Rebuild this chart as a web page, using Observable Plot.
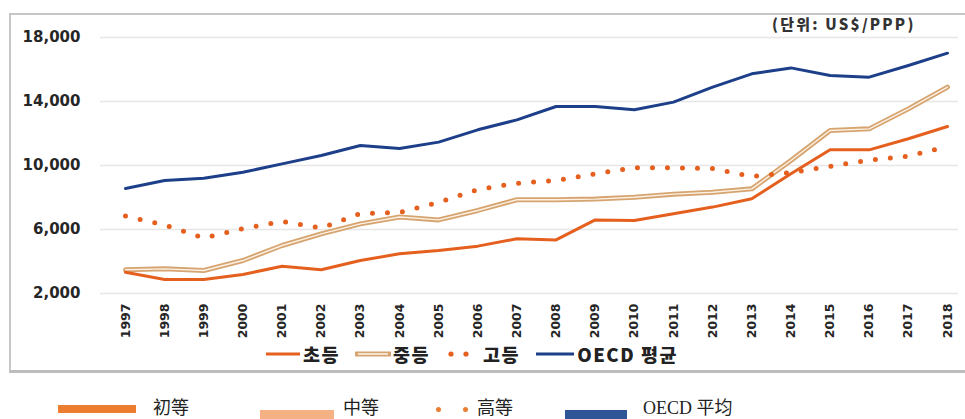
<!DOCTYPE html>
<html>
<head>
<meta charset="utf-8">
<script src="https://cdn.jsdelivr.net/npm/d3@7"></script>
<script src="https://cdn.jsdelivr.net/npm/@observablehq/plot@0.6"></script>
<style>
  html, body { margin: 0; padding: 0; background: #fff; }
  body { width: 965px; height: 419px; overflow: hidden; position: relative; }
  #frame { position: absolute; left: 9px; top: 13px; width: 975px; height: 355px;
           border: 2px solid #c6c6c6; border-right: none; border-bottom: 3px solid #bdbdbd; }
  #chart { position: absolute; left: 0; top: 0; }
  #unit { position: absolute; left: 772px; top: 13px; font-family: "Noto Sans CJK KR", sans-serif;
          font-weight: 900; font-size: 15px; letter-spacing: 2.2px; color: #333; }
  .leg { position: absolute; display: flex; align-items: center; white-space: nowrap; }
  #leg1 { left: 265px; top: 341px; font-family: "Noto Sans CJK KR", sans-serif; font-weight: 900;
          font-size: 18.5px; letter-spacing: 1.5px; color: #222; }
  #leg1 .item { display: flex; align-items: center; margin-right: 15px; }
  #leg1 svg { display: block; }
  .sw { position: absolute; }
  .lt { position: absolute; top: 399px; font-family: "Liberation Serif", "Noto Sans CJK SC", serif; font-size: 18px; line-height: 19px; color: #222; }
</style>
</head>
<body>
<div id="frame"></div>
<div id="chart"></div>
<div id="unit">(단위: US$/PPP)</div>
<div id="leg1" class="leg"></div>
<script>
// ---- data ----
const years = [1997, 1998, 1999, 2000, 2001, 2002, 2003, 2004, 2005, 2006, 2007,
               2008, 2009, 2010, 2011, 2012, 2013, 2014, 2015, 2016, 2017, 2018];
const primary   = [3330, 2880, 2870, 3190, 3700, 3480, 4060, 4480, 4690, 4960, 5420,
                   5350, 6600, 6560, 6980, 7400, 7920, 9480, 10980, 10980, 11670, 12440];
const secondary = [3480, 3540, 3440, 4060, 5000, 5730, 6350, 6780, 6600, 7190, 7860,
                   7860, 7900, 8020, 8210, 8330, 8540, 10310, 12190, 12290, 13540, 14900];
const tertiary  = [6840, 6280, 5470, 6060, 6500, 6090, 7000, 7060, 7690, 8500, 8890,
                   9060, 9480, 9860, 9860, 9820, 9310, 9560, 9950, 10340, 10590, 11190];
const oecd      = [8560, 9060, 9200, 9580, 10100, 10625, 11250, 11060, 11460, 12230, 12850,
                   13690, 13690, 13480, 13960, 14900, 15730, 16100, 15630, 15520, 16250, 17020];
const yTicks = [2000, 6000, 10000, 14000, 18000];
const seriesKo = ["초등", "중등", "고등", "OECD 평균"];
const seriesZh = ["初等", "中等", "高等", "OECD 平均"];

const C_PRI = "#e5601e", C_SEC = "#d6a46f", C_SEC_IN = "#fdf1e6", C_TER = "#e5601e", C_OECD = "#1d3f8a";

const toRows = (vals) => years.map((y, i) => ({year: y, value: vals[i]}));
const rPri = toRows(primary), rSec = toRows(secondary), rTer = toRows(tertiary), rOecd = toRows(oecd);

const H = 345;
const plot = Plot.plot({
  width: 965,
  height: H,
  marginTop: 37,
  marginBottom: H - 293,
  marginLeft: 100,
  marginRight: 7,
  x: {type: "linear", domain: [1997, 2018], insetLeft: 25, insetRight: 11, label: null},
  y: {domain: [2000, 18000], label: null},
  style: {background: "transparent", overflow: "visible"},
  marks: [
    Plot.gridY(yTicks, {stroke: "#e6e6e6", strokeOpacity: 1, strokeWidth: 1.5}),
    Plot.axisY(yTicks, {tickSize: 0, tickPadding: 20, tickFormat: d3.format(","), label: null,
      fontFamily: "DejaVu Sans", fontWeight: "bold", fontSize: 15, fill: "#262626"}),
    Plot.axisX(years, {tickSize: 0, tickPadding: 10, tickRotate: -90, tickFormat: d => String(d), label: null,
      fontFamily: "DejaVu Sans", fontWeight: "bold", fontSize: 12.5, fill: "#262626"}),
    Plot.lineY(rSec, {x: "year", y: "value", stroke: C_SEC, strokeWidth: 5}),
    Plot.lineY(rSec, {x: "year", y: "value", stroke: C_SEC_IN, strokeWidth: 1.4}),
    Plot.lineY(rPri, {x: "year", y: "value", stroke: C_PRI, strokeWidth: 3}),
    Plot.lineY(rTer, {x: "year", y: "value", stroke: C_TER, strokeWidth: 5, strokeDasharray: "0 15", strokeLinecap: "round"}),
    Plot.lineY(rOecd, {x: "year", y: "value", stroke: C_OECD, strokeWidth: 3})
  ]
});
document.getElementById("chart").appendChild(plot);

// ---- in-chart Korean legend ----
const swatches = [
  `<svg width="36" height="10"><line x1="1" y1="5" x2="35" y2="5" stroke="${C_PRI}" stroke-width="3"/></svg>`,
  `<svg width="36" height="10"><line x1="1" y1="5" x2="35" y2="5" stroke="${C_SEC}" stroke-width="5" stroke-linecap="round"/><line x1="3" y1="5" x2="33" y2="5" stroke="${C_SEC_IN}" stroke-width="1.6"/></svg>`,
  `<svg width="32" height="10"><circle cx="6" cy="5" r="2.6" fill="${C_TER}"/><circle cx="21" cy="5" r="2.6" fill="${C_TER}"/></svg>`,
  `<svg width="40" height="10"><line x1="1" y1="5" x2="39" y2="5" stroke="${C_OECD}" stroke-width="3"/></svg>`
];
const leg1 = document.getElementById("leg1");
seriesKo.forEach((name, i) => {
  const d = document.createElement("div");
  d.className = "item";
  d.innerHTML = swatches[i] + `<span style="margin-left:${i === 2 ? 6 : 2}px">${name}</span>`;
  leg1.appendChild(d);
});

// ---- bottom Chinese legend ----
const zhItems = [
  {sw: `<div class="sw" style="left:58px;top:405px;width:78px;height:8px;background:#ed7d31"></div>`, tx: 153},
  {sw: `<div class="sw" style="left:260px;top:410px;width:74px;height:9px;background:#f4b183"></div>`, tx: 343},
  {sw: `<div class="sw" style="left:436px;top:407px;width:5px;height:5px;border-radius:50%;background:#ed7d31"></div><div class="sw" style="left:463px;top:407px;width:5px;height:5px;border-radius:50%;background:#ed7d31"></div>`, tx: 477},
  {sw: `<div class="sw" style="left:565px;top:410px;width:62px;height:9px;background:#2f5597"></div>`, tx: 643}
];
let html = "";
zhItems.forEach((it, i) => {
  html += it.sw + `<div class="lt" style="left:${it.tx}px">${seriesZh[i]}</div>`;
});
document.body.insertAdjacentHTML("beforeend", html);
</script>
</body>
</html>
